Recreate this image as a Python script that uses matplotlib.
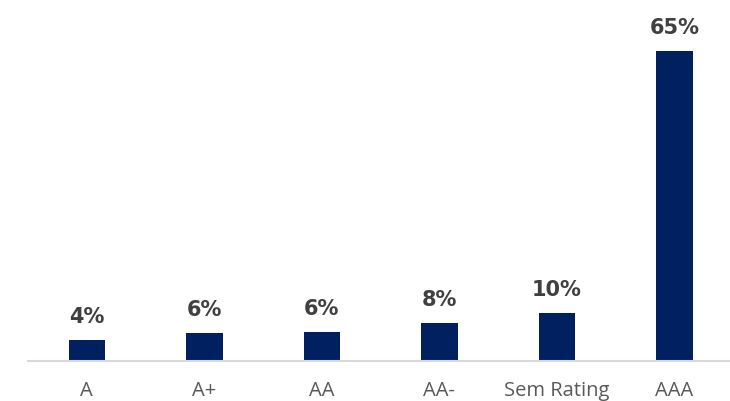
import matplotlib.pyplot as plt

categories = ["A", "A+", "AA", "AA-", "Sem Rating", "AAA"]
values = [4.4, 5.9, 6.1, 8.0, 10.1, 65.0]
labels = ["4%", "6%", "6%", "8%", "10%", "65%"]

BAR_COLOR = "#002060"
LABEL_COLOR = "#404040"
TICK_COLOR = "#595959"

fig = plt.figure(figsize=(7.30, 4.01), dpi=100)
ax = fig.add_axes([0.0384, 0.0998, 0.966, 0.833])

x = range(len(categories))
bars = ax.bar(x, values, width=0.31, color=BAR_COLOR)

for bar, lab in zip(bars, labels):
    ax.annotate(lab, (bar.get_x() + bar.get_width() / 2, bar.get_height()),
                xytext=(0, 9), textcoords="offset points",
                ha="center", va="bottom", fontsize=15, fontweight="bold",
                color=LABEL_COLOR, family="DejaVu Sans")

ax.set_xlim(-0.5, len(categories) - 0.5)
ax.set_ylim(0, 70)
ax.set_xticks(list(x))
ax.set_xticklabels(categories, fontsize=14.5, color=TICK_COLOR, family="Open Sans")
ax.tick_params(axis="x", length=0, pad=14.5)
ax.set_yticks([])

for side in ["top", "right", "left"]:
    ax.spines[side].set_visible(False)
ax.spines["bottom"].set_color("#d9d9d9")
ax.spines["bottom"].set_linewidth(1.5)

fig.savefig("out.png", dpi=100)
